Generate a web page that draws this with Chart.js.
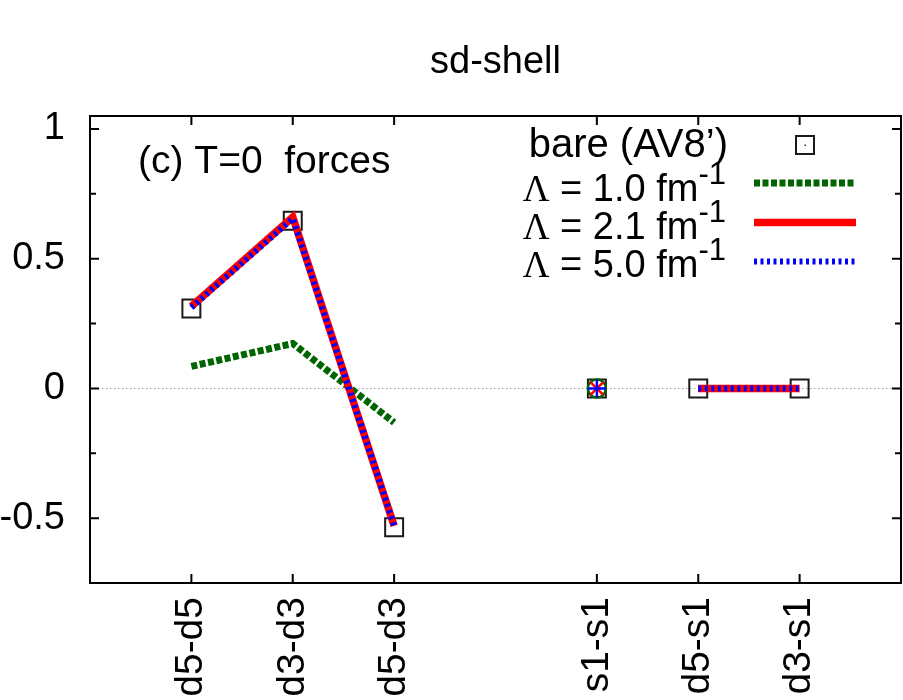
<!DOCTYPE html>
<html lang="en">

<head>
  <meta charset="UTF-8">
  <title>sd-shell</title>
  <script src="https://cdn.jsdelivr.net/npm/chart.js"></script>
  <style>
    body { margin: 0; background: #fff; }
    .chart-box { width: 903px; height: 700px; }
  </style>
</head>

<body>
  <div class="chart-box"><canvas id="shellChart"></canvas></div>

  <script>
    // pair labels and where they sit on the x axis (gap between d and s blocks)
    const pairLabels = ['d5-d5', 'd3-d3', 'd5-d3', 's1-s1', 'd5-s1', 'd3-s1'];
    const pairPositions = [1, 2, 3, 5, 6, 7];
    const pairGroups = [0, 0, 0, 1, 2, 2]; // lines only join points of the same group

    const bareAV8 = [0.308, 0.646, -0.535, 0, 0, 0];
    const lambda10 = [0.085, 0.173, -0.131, 0, 0, 0];
    const lambda21 = [0.316, 0.66, -0.53, 0, 0, 0];
    const lambda50 = [0.312, 0.655, -0.528, 0, 0, 0];
    const lambdaCutoffs = ['1.0', '2.1', '5.0'];

    const yTicks = [-0.75, -0.5, -0.25, 0, 0.25, 0.5, 0.75, 1];
    const yLabelled = [-0.5, 0, 0.5, 1];

    const FONT = '"Liberation Sans", Arial, Helvetica, sans-serif';
    const SERIF = '"Liberation Serif", "Times New Roman", serif';

    function toPoints(values) {
      return values.map((v, i) => ({ x: pairPositions[i], y: v }));
    }

    // a point with no neighbour in its group gets a marker, otherwise nothing
    const isolated = pairGroups.map((g, i) => g !== pairGroups[i - 1] && g !== pairGroups[i + 1]);

    function lineSet(label, values, color, width, dash, marker, order) {
      return {
        label: label,
        data: toPoints(values),
        borderColor: color,
        borderWidth: width,
        borderDash: dash,
        borderCapStyle: 'butt',
        pointStyle: marker,
        pointRadius: isolated.map(f => f ? 9 : 0),
        pointBorderColor: color,
        pointBorderWidth: 2.5,
        pointBackgroundColor: 'rgba(0,0,0,0)',
        segment: {
          borderColor: ctx => pairGroups[ctx.p0DataIndex] === pairGroups[ctx.p1DataIndex] ? color : 'rgba(0,0,0,0)'
        },
        order: order
      };
    }

    // frame, inward ticks, zero line, legend and panel label (gnuplot look)
    const framePlugin = {
      id: 'frame',
      beforeDatasetsDraw(chart) {
        const { ctx, chartArea: a, scales } = chart;
        const y0 = scales.y.getPixelForValue(0);
        ctx.save();
        ctx.strokeStyle = '#a0a0a0';
        ctx.lineWidth = 1;
        ctx.setLineDash([1.5, 2.5]);
        ctx.beginPath();
        ctx.moveTo(a.left, y0);
        ctx.lineTo(a.right, y0);
        ctx.stroke();
        ctx.restore();
      },
      afterDatasetsDraw(chart) {
        const { ctx, chartArea: a, scales } = chart;
        ctx.save();
        ctx.strokeStyle = '#000';
        ctx.lineWidth = 2;
        ctx.beginPath();
        yTicks.forEach(v => {
          if (v <= scales.y.min) return;
          const py = scales.y.getPixelForValue(v);
          const len = yLabelled.includes(v) ? 9 : 6;
          ctx.moveTo(a.left, py); ctx.lineTo(a.left + len, py);
          ctx.moveTo(a.right, py); ctx.lineTo(a.right - len, py);
        });
        pairPositions.forEach(v => {
          const px = scales.x.getPixelForValue(v);
          ctx.moveTo(px, a.bottom); ctx.lineTo(px, a.bottom - 9);
          ctx.moveTo(px, a.top); ctx.lineTo(px, a.top + 9);
        });
        ctx.stroke();
        ctx.strokeRect(a.left, a.top, a.right - a.left, a.bottom - a.top);

        // panel label
        ctx.fillStyle = '#000';
        ctx.textAlign = 'left';
        ctx.textBaseline = 'alphabetic';
        ctx.font = '39px ' + FONT;
        ctx.fillText('(c) T=0  forces', 138, 173);

        // legend
        const ds = chart.data.datasets;
        const textRight = 728, sampleLeft = 754, sampleRight = 856;
        const rowsMid = [145, 183, 222.5, 261.5];
        const rowsBase = [157, 201, 239, 277];

        ctx.textAlign = 'right';
        ctx.font = '40px ' + FONT;
        ctx.fillText('bare (AV8\u2019)', textRight, rowsBase[0]);
        const sq = 9;
        ctx.lineWidth = 2;
        ctx.strokeStyle = '#1a1a1a';
        ctx.setLineDash([]);
        const cx = (sampleLeft + sampleRight) / 2;
        ctx.strokeRect(cx - sq, rowsMid[0] - sq, 2 * sq, 2 * sq);
        ctx.fillStyle = '#333';
        ctx.fillRect(cx - 0.5, rowsMid[0] - 0.5, 1.5, 1.5);
        ctx.fillStyle = '#000';

        lambdaCutoffs.forEach((cut, i) => {
          const base = rowsBase[i + 1];
          ctx.font = '31px ' + FONT;
          ctx.fillText('-1', textRight - 2, base - 17);
          const supW = ctx.measureText('-1').width;
          const rest = ' = ' + cut + ' fm';
          ctx.font = '38px ' + FONT;
          const x1 = textRight - 2 - supW;
          ctx.fillText(rest, x1, base);
          const restW = ctx.measureText(rest).width;
          ctx.font = '37px ' + SERIF;
          ctx.fillText('\u039B', x1 - restW, base);

          const set = ds[i + 1];
          ctx.strokeStyle = set.borderColor;
          ctx.lineWidth = set.borderWidth;
          ctx.setLineDash(set.borderDash);
          ctx.beginPath();
          ctx.moveTo(sampleLeft, rowsMid[i + 1]);
          ctx.lineTo(sampleRight, rowsMid[i + 1]);
          ctx.stroke();
          ctx.setLineDash([]);
        });
        ctx.restore();
      }
    };

    const ctx = document.getElementById('shellChart').getContext('2d');
    new Chart(ctx, {
      type: 'line',
      data: {
        datasets: [
          {
            label: 'bare (AV8\u2019)',
            data: toPoints(bareAV8),
            showLine: false,
            pointStyle: 'rect',
            pointRadius: 12.7,
            pointBorderColor: '#1a1a1a',
            pointBorderWidth: 2,
            pointBackgroundColor: 'rgba(0,0,0,0)',
            order: 4
          },
          lineSet('\u039B = 1.0 fm-1', lambda10, '#006400', 7, [6, 2.5], 'circle', 3),
          lineSet('\u039B = 2.1 fm-1', lambda21, '#ff0000', 7.5, [], 'crossRot', 2),
          lineSet('\u039B = 5.0 fm-1', lambda50, '#0000ff', 6, [3, 3.5], 'cross', 1)
        ]
      },
      options: {
        responsive: true,
        maintainAspectRatio: false,
        animation: false,
        events: [],
        layout: { autoPadding: false, padding: { left: 0, right: 2, top: 0, bottom: 0 } },
        plugins: {
          legend: { display: false },
          tooltip: { enabled: false },
          title: {
            display: true,
            fullSize: false,
            text: 'sd-shell',
            color: '#000',
            font: { family: FONT, size: 38, weight: 'normal' },
            padding: { top: 40, bottom: 30.4 }
          }
        },
        scales: {
          x: {
            type: 'linear',
            min: 0,
            max: 8,
            grid: { display: false, drawTicks: false },
            border: { display: false },
            afterBuildTicks: s => { s.ticks = pairPositions.map(v => ({ value: v })); },
            afterFit: s => { s.height = 117; s.paddingLeft = 0; s.paddingRight = 0; },
            ticks: {
              autoSkip: false,
              minRotation: 90,
              maxRotation: 90,
              padding: 14,
              color: '#000',
              font: { family: FONT, size: 39 },
              callback: v => pairLabels[pairPositions.indexOf(v)] ?? ''
            }
          },
          y: {
            min: -0.75,
            max: 1.05,
            grid: { display: false, drawTicks: false },
            border: { display: false },
            afterBuildTicks: s => { s.ticks = yTicks.map(v => ({ value: v })); },
            afterFit: s => { s.width = 90; s.paddingTop = 0; s.paddingBottom = 0; },
            ticks: {
              padding: 25,
              color: '#000',
              font: { family: FONT, size: 38 },
              callback: v => yLabelled.includes(v) ? String(v) : ''
            }
          }
        }
      },
      plugins: [framePlugin]
    });
  </script>
</body>

</html>
